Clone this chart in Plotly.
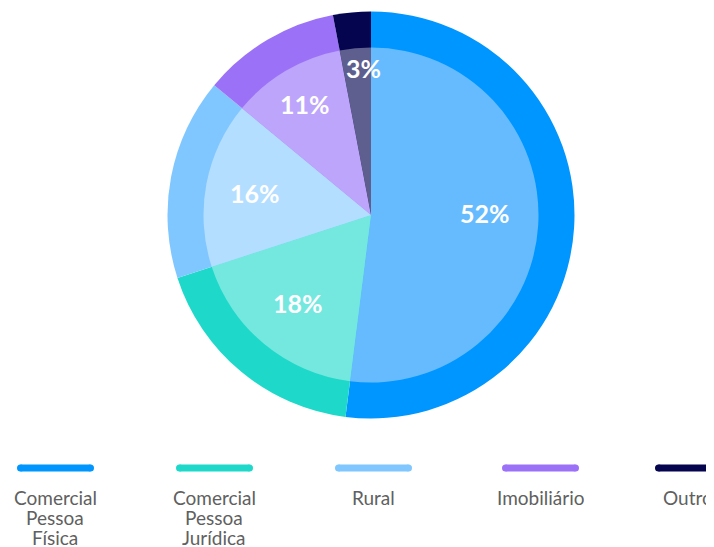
import math
import plotly.graph_objects as go

categories = ["Comercial Pessoa Física", "Comercial Pessoa Jurídica", "Rural", "Imobiliário", "Outro"]
legend_lines = [["Comercial", "Pessoa", "Física"], ["Comercial", "Pessoa", "Jurídica"],
                ["Rural"], ["Imobiliário"], ["Outro"]]
values = [52, 18, 16, 11, 3]
outer_colors = ["#0096FF", "#1ED9C9", "#80C7FF", "#9B72F7", "#04044F"]
inner_colors = ["#66BBFF", "#74E8DF", "#B3DEFF", "#BDA5FB", "#5F5F8F"]
legend_centers = [55.5, 214.5, 373.5, 540.5, 693.5]
legend_text_centers = [55.5, 214.5, 373.5, 540.5, 688]

OFF = 8  # page body margin
W, H = 714 - OFF, 547 - OFF
cx, cy = 371, 215
r_out, r_in = 203.5, 167.5

def px(x):
    return (x - OFF) / W

def py(y):
    return 1 - (y - OFF) / H

def dom(r):
    return dict(x=[px(cx - r), px(cx + r)], y=[py(cy + r), py(cy - r)])

fig = go.Figure()
fig.add_trace(go.Pie(labels=categories, values=values, sort=False, direction="clockwise",
                     rotation=0, domain=dom(r_out), textinfo="none", hoverinfo="skip",
                     marker=dict(colors=outer_colors, line=dict(width=0)), showlegend=False))
fig.add_trace(go.Pie(labels=categories, values=values, sort=False, direction="clockwise",
                     rotation=0, domain=dom(r_in), textinfo="none",
                     hoverinfo="label+percent",
                     marker=dict(colors=inner_colors, line=dict(width=0)), showlegend=False))

shapes = []
annotations = []

# percentage labels inside the inner pie
total = sum(values)
cum = 0
for v in values:
    p = v / total
    mid = (cum + p / 2) * 2 * math.pi
    cum += p
    rf = 0.68 + 0.2 * max(0.0, 0.18 - p) / 0.15
    if p > 0.5:
        mid -= 0.08
    if p < 0.05:
        mid += 0.04
    lx = cx + rf * r_in * math.sin(mid)
    ly_ = cy - rf * r_in * math.cos(mid)
    annotations.append(dict(x=px(lx), y=py(ly_), xref="paper", yref="paper",
                            text="<b>%d%%</b>" % round(p * 100), showarrow=False,
                            xanchor="center", yanchor="middle",
                            font=dict(family="Lato", size=25, color="white")))

ly = 468
half = 35
rad = 3.5
for c, tc, col, lines in zip(legend_centers, legend_text_centers, outer_colors, legend_lines):
    shapes.append(dict(type="rect", xref="paper", yref="paper",
                       x0=px(c - half), x1=px(c + half),
                       y0=py(ly + rad), y1=py(ly - rad),
                       fillcolor=col, line=dict(width=0)))
    for ex in (c - half, c + half):
        shapes.append(dict(type="circle", xref="paper", yref="paper",
                           x0=px(ex - rad), x1=px(ex + rad),
                           y0=py(ly + rad), y1=py(ly - rad),
                           fillcolor=col, line=dict(width=0)))
    for i, t in enumerate(lines):
        annotations.append(dict(x=px(tc), y=py(497 + 20 * i), xref="paper", yref="paper",
                                text=t, showarrow=False, xanchor="center", yanchor="middle",
                                height=19, borderpad=0,
                                font=dict(family="Lato", size=19, color="#606060")))

fig.update_layout(width=W, height=H, margin=dict(l=0, r=0, t=0, b=0),
                  paper_bgcolor="white", plot_bgcolor="white",
                  shapes=shapes, annotations=annotations, showlegend=False)
fig.write_html("out.html")
